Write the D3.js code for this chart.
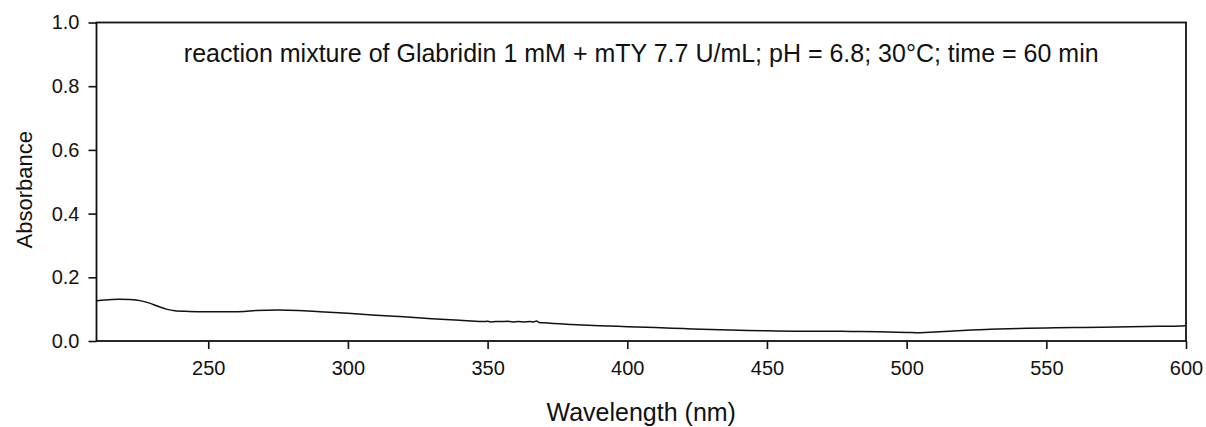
<!DOCTYPE html>
<html>
<head>
<meta charset="utf-8">
<script src="https://cdn.jsdelivr.net/npm/d3@7"></script>
<style>
  body { margin: 0; background: #fff; }
  text { font-family: Arial, "Liberation Sans", sans-serif; fill: #111; }
</style>
</head>
<body>
<div id="chart"></div>
<script>
// Spectrum (wavelength in nm, absorbance)
let wavelength = [210, 213, 218, 222, 226, 229, 232, 235, 238, 243, 250, 258, 263, 267, 275, 282, 290, 300,
  310, 320, 330, 340, 348, 350, 351, 353, 355, 357, 359, 361, 363, 365, 366.5, 367.5, 368.5, 370,
  380, 390, 400, 410, 420, 430, 440, 450, 460, 470, 480, 490, 500, 505, 510, 520, 530, 540, 550,
  560, 570, 580, 590, 598, 600];
let absorbance = [0.126, 0.129, 0.131, 0.130, 0.126, 0.119, 0.109, 0.100, 0.095, 0.093, 0.092, 0.092, 0.093, 0.096, 0.097, 0.096, 0.092, 0.087,
  0.081, 0.076, 0.070, 0.065, 0.061, 0.062, 0.060, 0.061, 0.061, 0.062, 0.060, 0.061, 0.060, 0.061, 0.060, 0.063, 0.058, 0.057,
  0.052, 0.048, 0.045, 0.042, 0.039, 0.036, 0.034, 0.032, 0.031, 0.031, 0.030, 0.029, 0.027, 0.026, 0.028, 0.033, 0.037, 0.039, 0.041,
  0.042, 0.043, 0.045, 0.046, 0.047, 0.049];
let xTicks = [250, 300, 350, 400, 450, 500, 550, 600];
let yTicks = [0.0, 0.2, 0.4, 0.6, 0.8, 1.0];
let title = "reaction mixture of Glabridin 1 mM + mTY 7.7 U/mL; pH = 6.8; 30°C; time = 60 min";

let svgWidth = 1206;
let svgHeight = 427;
let margin = { top: 22.5, right: 20, bottom: 86, left: 96.5 };
let width = 1186 - margin.left;
let height = svgHeight - margin.top - margin.bottom;

let svg = d3.select("#chart")
  .append("svg")
  .attr("width", svgWidth)
  .attr("height", svgHeight);

let chartGroup = svg.append("g")
  .attr("transform", `translate(${margin.left}, ${margin.top})`);

let x = d3.scaleLinear().domain([210, 600]).range([0, width]);
let y = d3.scaleLinear().domain([0, 1]).range([height, 0]);

let data = wavelength.map((w, i) => ({ w: w, a: absorbance[i] }));

// axes
let bottomAxis = d3.axisBottom(x).tickValues(xTicks).tickSize(8).tickPadding(12)
  .tickFormat(d3.format("d"));
let leftAxis = d3.axisLeft(y).tickValues(yTicks).tickSize(8).tickPadding(9)
  .tickFormat(d3.format(".1f"));

let xAxis = chartGroup.append("g")
  .attr("transform", `translate(0, ${height})`)
  .call(bottomAxis);
let yAxis = chartGroup.append("g").call(leftAxis);

[xAxis, yAxis].forEach(g => {
  g.select(".domain").remove();
  g.selectAll("line").attr("stroke", "#111").attr("stroke-width", 1.6);
  g.selectAll("text").style("font-size", "20px").attr("fill", "#111");
});

// frame
chartGroup.append("rect")
  .attr("x", 0).attr("y", 0)
  .attr("width", width).attr("height", height)
  .attr("fill", "none")
  .attr("stroke", "#111")
  .attr("stroke-width", 1.8);

// spectrum
chartGroup.append("path")
  .datum(data)
  .attr("fill", "none")
  .attr("stroke", "#111")
  .attr("stroke-width", 1.5)
  .attr("d", d3.line().x(d => x(d.w)).y(d => y(d.a)).curve(d3.curveMonotoneX));

// title
chartGroup.append("text")
  .attr("x", width / 2)
  .attr("y", 39)
  .attr("text-anchor", "middle")
  .style("font-size", "25px")
  .text(title);

// axis labels
svg.append("text")
  .attr("x", margin.left + width / 2)
  .attr("y", 421)
  .attr("text-anchor", "middle")
  .style("font-size", "25px")
  .text("Wavelength (nm)");

svg.append("text")
  .attr("transform", `translate(32, ${margin.top + height / 2 + 8}) rotate(-90)`)
  .attr("text-anchor", "middle")
  .style("font-size", "22px")
  .text("Absorbance");
</script>
</body>
</html>
